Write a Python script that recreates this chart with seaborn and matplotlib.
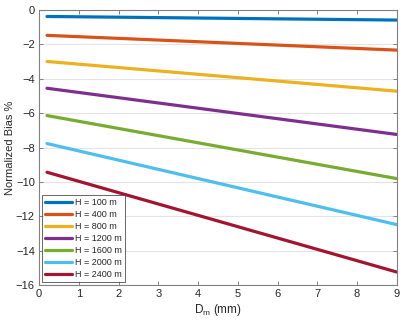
import matplotlib.pyplot as plt
import pandas as pd
import seaborn as sns

# Normalized bias vs Dm for several heights (straight lines, end points)
dm_range = [0.2, 9.0]
heights = ["H = 100 m", "H = 400 m", "H = 800 m", "H = 1200 m", "H = 1600 m", "H = 2000 m", "H = 2400 m"]
bias_start = [-0.37, -1.47, -2.99, -4.55, -6.14, -7.77, -9.44]
bias_end = [-0.58, -2.33, -4.72, -7.24, -9.81, -12.49, -15.25]
colors = ["#0072BD", "#D95319", "#EDB120", "#7E2F8E", "#77AC30", "#4DBEEE", "#A2142F"]

rows = []
for h, b0, b1 in zip(heights, bias_start, bias_end):
    rows.append({"H": h, "Dm": dm_range[0], "bias": b0})
    rows.append({"H": h, "Dm": dm_range[1], "bias": b1})
df = pd.DataFrame(rows)

sns.set_theme(style="white")
plt.rcParams["font.family"] = ["Liberation Sans", "DejaVu Sans"]

fig = plt.figure(figsize=(4.07, 3.26), dpi=100)
ax = fig.add_axes([0.096, 0.126, 0.879, 0.843])

sns.lineplot(data=df, x="Dm", y="bias", hue="H", hue_order=heights,
             palette=colors, linewidth=2.3, ax=ax)

ax.set_xlim(0, 9)
ax.set_ylim(-16, 0)
ax.set_xticks(range(0, 10))
ax.set_yticks(range(-16, 1, 2))
ax.yaxis.grid(True, color="#e3e3e3", linewidth=0.8)
ax.set_axisbelow(True)
ax.tick_params(direction="in", length=3, width=0.7, colors="#808080",
               labelcolor="#262626", labelsize=8, top=True, right=True,
               bottom=True, left=True, pad=3)
for s in ax.spines.values():
    s.set_color("#808080")
    s.set_linewidth(0.8)

ax.set_xlabel("D$_\\mathregular{m}$ (mm)", fontsize=8.5, color="#262626", labelpad=2)
ax.set_ylabel("Normalized Bias %", fontsize=8, color="#262626", labelpad=1)

leg = ax.legend(loc="lower left", fontsize=6.5, frameon=True, fancybox=False,
                edgecolor="#404040", handlelength=3.0, handletextpad=0.3,
                labelspacing=0.33, borderpad=0.35, borderaxespad=0.3)
leg.get_frame().set_linewidth(0.7)

fig.savefig("out.png", dpi=100)
